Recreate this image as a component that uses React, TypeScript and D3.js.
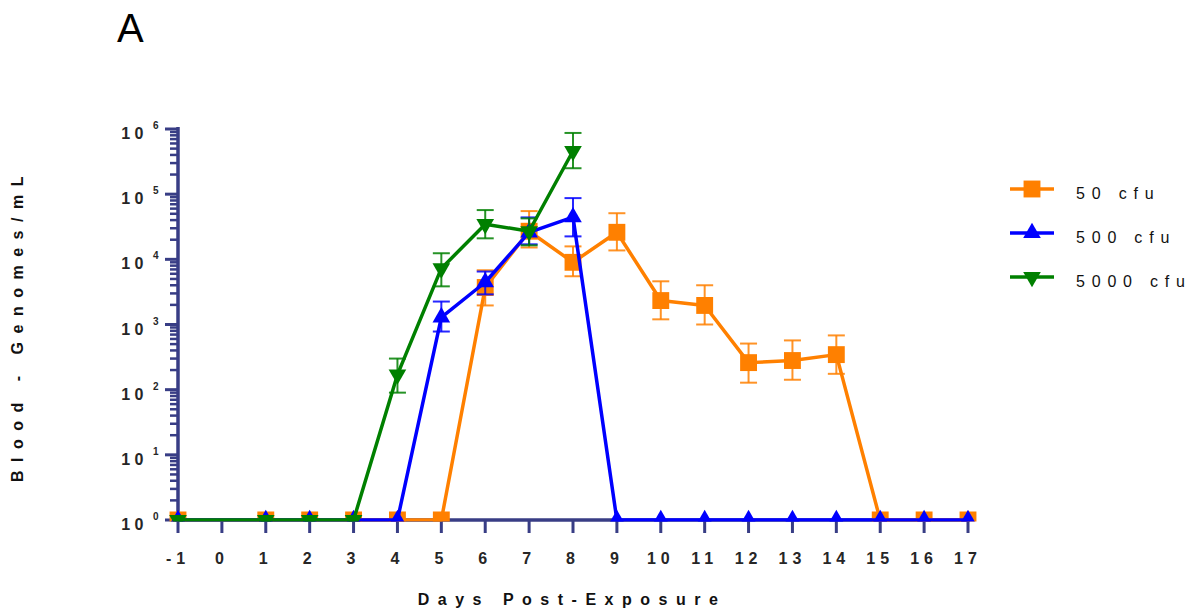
import React from 'react';
import * as d3 from 'd3';

// days measured (no sample on day 0)
const days = [-1, 1, 2, 3, 4, 5, 6, 7, 8, 9, 10, 11, 12, 13, 14, 15, 16, 17];
const days5000 = [-1, 1, 2, 3, 4, 5, 6, 7, 8];

// 50 cfu
const mean50 = [1, 1, 1, 1, 1, 1, 3700, 27000, 9000, 26000, 2330, 1960, 260, 280, 345, 1, 1, 1];
const hi50 = [0, 0, 0, 0, 0, 0, 6800, 55000, 15800, 51000, 4600, 4000, 510, 570, 680, 0, 0, 0];
const lo50 = [0, 0, 0, 0, 0, 0, 1960, 15200, 5500, 13700, 1200, 1000, 128, 142, 175, 0, 0, 0];

// 500 cfu
const mean500 = [1, 1, 1, 1, 1, 1290, 4450, 26000, 44500, 1, 1, 1, 1, 1, 1, 1, 1, 1];
const hi500 = [0, 0, 0, 0, 0, 2250, 6500, 44000, 87000, 0, 0, 0, 0, 0, 0, 0, 0, 0];
const lo500 = [0, 0, 0, 0, 0, 780, 2900, 17000, 22500, 0, 0, 0, 0, 0, 0, 0, 0, 0];

// 5000 cfu
const mean5000 = [1, 1, 1, 1, 170, 7250, 34600, 27000, 460000];
const hi5000 = [0, 0, 0, 0, 300, 12400, 57000, 42500, 870000];
const lo5000 = [0, 0, 0, 0, 90, 3850, 21000, 16400, 250000];

const xTicks = d3.range(-1, 18);
const yDecades = [0, 1, 2, 3, 4, 5, 6];

const series = [
  { name: '50 cfu', color: '#ff8000', shape: 'square', x: days, y: mean50, hi: hi50, lo: lo50 },
  { name: '500 cfu', color: '#0000ff', shape: 'up', x: days, y: mean500, hi: hi500, lo: lo500 },
  { name: '5000 cfu', color: '#008000', shape: 'down', x: days5000, y: mean5000, hi: hi5000, lo: lo5000 },
];

const AXIS = '#383d85';
const TXT = '#262626';
const FONT = '"Liberation Sans", Arial, sans-serif';

const x = d3.scaleLinear().domain([-1, 17]).range([178, 968]);
const y = d3.scaleLog().domain([1, 1e6]).range([520, 129]);

const line = d3.line<number[]>().x(d => x(d[0])).y(d => y(d[1]));

function marker(shape: string) {
  if (shape === 'square') return d3.symbol().type(d3.symbolSquare).size(285)();
  return d3.symbol().type(d3.symbolTriangle).size(135)();
}

export default function App() {
  const yMinor = y.ticks().filter(v => Math.abs(Math.log10(v) - Math.round(Math.log10(v))) > 1e-6);

  return (
    <svg width={1193} height={609} style={{ position: 'absolute', left: 0, top: 0 }} fontFamily={FONT}>
      <rect width={1193} height={609} fill="#fff" />
      <defs>
        <clipPath id="plot">
          <rect x={150} y={0} width={850} height={521.5} />
        </clipPath>
      </defs>

      <text x={117} y={42} fontSize={40} fill="#000">A</text>

      {/* y axis */}
      <g stroke={AXIS} strokeWidth={3}>
        <line x1={178} x2={178} y1={y(1e6) - 2} y2={521.5} strokeWidth={3.5} />
        {yDecades.map(p => (
          <line key={p} x1={165} x2={178} y1={y(10 ** p)} y2={y(10 ** p)} />
        ))}
        {yMinor.map((v, i) => (
          <line key={i} x1={170} x2={178} y1={y(v)} y2={y(v)} strokeWidth={2.5} />
        ))}
      </g>
      {yDecades.map(p => (
        <g key={p} fill={TXT} fontWeight="bold">
          <text x={148} y={y(10 ** p) + 10} fontSize={16} textAnchor="end" letterSpacing={4.5}>10</text>
          <text x={153} y={y(10 ** p)} fontSize={10}>{p}</text>
        </g>
      ))}

      {/* x axis */}
      <g stroke={AXIS} strokeWidth={3}>
        <line x1={175} x2={970} y1={520} y2={520} strokeWidth={3.5} />
        {xTicks.map(t => (
          <line key={t} x1={x(t)} x2={x(t)} y1={520} y2={533} />
        ))}
      </g>
      {xTicks.map(t => (
        <text key={t} x={x(t)} y={564} fontSize={16} fontWeight="bold" fill={TXT}
          textAnchor="middle" letterSpacing={5}>{String(t)}</text>
      ))}

      <text x={572} y={605} fontSize={16} fontWeight="bold" fill="#111" textAnchor="middle"
        letterSpacing={8.5}>Days Post-Exposure</text>
      <text transform="translate(23,325) rotate(-90)" fontSize={16} fontWeight="bold" fill="#111"
        textAnchor="middle" letterSpacing={8.5}>Blood - Genomes/mL</text>

      {/* data */}
      <g clipPath="url(#plot)">
        {series.map(s => {
          const pts = s.x.map((d, i) => [d, s.y[i]]);
          return (
            <g key={s.name}>
              <path d={line(pts) || ''} fill="none" stroke={s.color} strokeWidth={3.5} strokeLinejoin="round" />
              {s.x.map((d, i) => s.hi[i] > 0 ? (
                <g key={i} stroke={s.color} strokeWidth={2} strokeOpacity={0.85}>
                  <line x1={x(d)} x2={x(d)} y1={y(s.lo[i])} y2={y(s.hi[i])} />
                  <line x1={x(d) - 8.5} x2={x(d) + 8.5} y1={y(s.hi[i])} y2={y(s.hi[i])} />
                  <line x1={x(d) - 8.5} x2={x(d) + 8.5} y1={y(s.lo[i])} y2={y(s.lo[i])} />
                </g>
              ) : null)}
              {s.x.map((d, i) => (
                <path key={'m' + i} d={marker(s.shape) || ''} fill={s.color}
                  transform={`translate(${x(d)},${y(s.y[i])})${s.shape === 'down' ? ' rotate(180)' : ''}`} />
              ))}
            </g>
          );
        })}
      </g>

      {/* legend */}
      {series.map((s, i) => {
        const ly = 189 + i * 44;
        return (
          <g key={s.name}>
            <line x1={1010} x2={1054} y1={ly} y2={ly} stroke={s.color} strokeWidth={3.5} />
            <path d={marker(s.shape) || ''} fill={s.color}
              transform={`translate(1032,${ly})${s.shape === 'down' ? ' rotate(180)' : ''}`} />
            <text x={1076} y={ly + 10} fontSize={16} fill="#111" letterSpacing={6.8}>{s.name}</text>
          </g>
        );
      })}
    </svg>
  );
}
